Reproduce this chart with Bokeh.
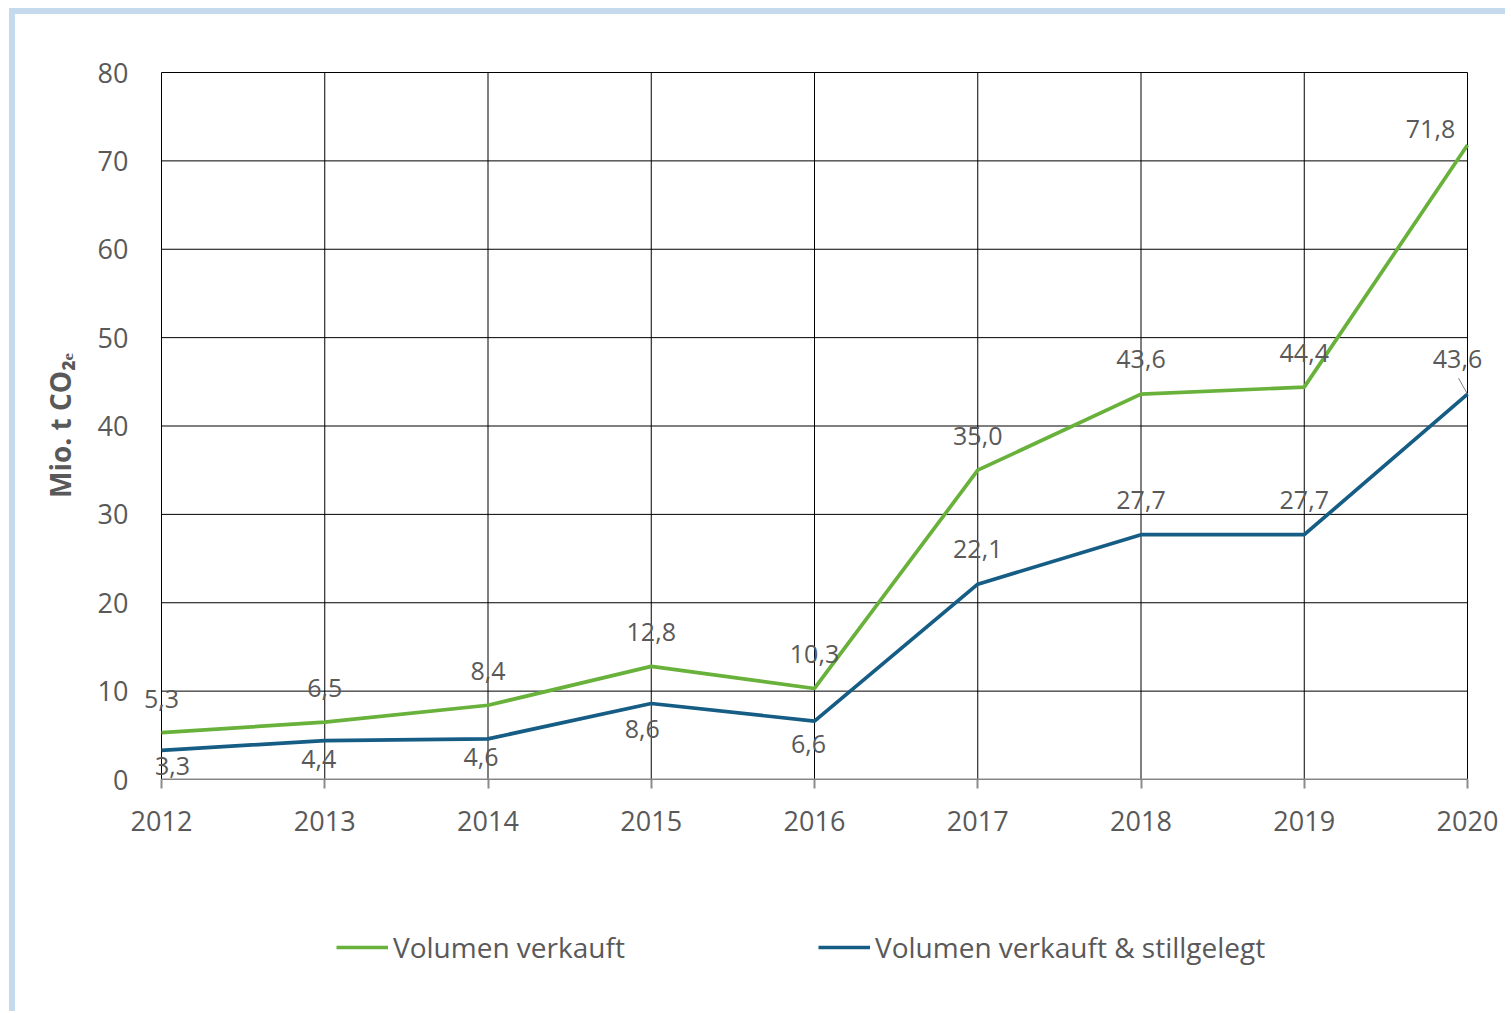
from bokeh.plotting import figure
from bokeh.layouts import column
from bokeh.models import Range1d, FixedTicker, ColumnDataSource, Legend, LegendItem
from bokeh.core.properties import value
from bokeh.embed import file_html
from bokeh.resources import INLINE

# ---- data ----
years = [2012, 2013, 2014, 2015, 2016, 2017, 2018, 2019, 2020]
year_labels = ["2012", "2013", "2014", "2015", "2016", "2017", "2018", "2019", "2020"]
verkauft = [5.3, 6.5, 8.4, 12.8, 10.3, 35.0, 43.6, 44.4, 71.8]
stillgelegt = [3.3, 4.4, 4.6, 8.6, 6.6, 22.1, 27.7, 27.7, 43.6]
y_ticks = [0, 10, 20, 30, 40, 50, 60, 70, 80]
series_names = ["Volumen verkauft", "Volumen verkauft & stillgelegt"]

# label offsets (screen px) -- styling only
g_dx = [0, 0, 0, 0, 0, 0, 0, 0, -37]
g_dy = [-34, -34, -34, -34, -34, -34, -35, -34, -16]
b_dx = [11, -6, -7, -9, -6, 0, 0, 0, -10]
b_dy = [16, 18, 18, 26, 23, -35, -35, -35, -35]

GREEN = "#68B13A"
BLUE = "#165D85"
TXT = "#595959"
FONT = "Open Sans"

def fmt(v):
    return ("%.1f" % v).replace(".", ",")

# plot geometry (px)
GRID_W = 1306          # width of gridded box
GRID_H = 707           # height of gridded box
PAD_X = 20             # frame extends beyond grid box so labels are not clipped
PAD_TOP = 1
px_per_x = GRID_W / (years[-1] - years[0])
px_per_y = GRID_H / (y_ticks[-1] - y_ticks[0])

x0, x1 = years[0], years[-1]
y0, y1 = y_ticks[0], y_ticks[-1]

p = figure(width=1490, height=850, output_backend="svg", toolbar_location=None,
           x_range=Range1d(x0 - PAD_X / px_per_x, x1 + PAD_X / px_per_x),
           y_range=Range1d(y0, y1 + PAD_TOP / px_per_y),
           min_border_left=126, min_border_top=57, min_border_right=18, min_border_bottom=85)
p.outline_line_color = None
p.xgrid.grid_line_color = None
p.ygrid.grid_line_color = None
p.background_fill_color = "white"
p.border_fill_color = "white"

xa = p.xaxis[0]
xa.ticker = FixedTicker(ticks=years)
xa.major_label_overrides = {y: l for y, l in zip(years, year_labels)}
xa.major_label_text_font = FONT
xa.major_label_text_font_size = "27px"
xa.major_label_text_color = TXT
xa.major_label_standoff = 22
xa.axis_line_color = None
xa.major_tick_line_color = "#8C8C8C"
xa.major_tick_line_width = 2
xa.major_tick_out = 9
xa.major_tick_in = 0
xa.minor_tick_line_color = None

ya = p.yaxis[0]
ya.ticker = FixedTicker(ticks=y_ticks)
ya.major_label_text_font = FONT
ya.major_label_text_font_size = "27px"
ya.major_label_text_color = TXT
ya.major_label_standoff = 7
ya.axis_line_color = None
ya.major_tick_line_color = None
ya.minor_tick_line_color = None
ya.axis_label = "Mio. t CO₂ₑ"
ya.axis_label_text_font = FONT
ya.axis_label_text_font_size = "28px"
ya.axis_label_text_font_style = "bold"
ya.axis_label_text_color = TXT
ya.axis_label_standoff = 16

# grid box drawn from the tick arrays
p.segment(x0=years, y0=[y0] * len(years), x1=years, y1=[y1] * len(years),
          line_color="black", line_width=1)
p.segment(x0=[x0] * len(y_ticks), y0=y_ticks, x1=[x1] * len(y_ticks), y1=y_ticks,
          line_color="black", line_width=1)
# x axis line
p.segment(x0=[x0], y0=[y0], x1=[x1], y1=[y0], line_color="#8C8C8C", line_width=2)

src = ColumnDataSource(dict(
    x=years, g=verkauft, b=stillgelegt,
    gl=[fmt(v) for v in verkauft], bl=[fmt(v) for v in stillgelegt],
    gdx=g_dx, gdy=g_dy, bdx=b_dx, bdy=b_dy))

p.line("x", "g", source=src, line_color=GREEN, line_width=3.7)
p.line("x", "b", source=src, line_color=BLUE, line_width=3.7)

p.text("x", "g", text="gl", source=src, x_offset="gdx", y_offset="gdy",
       text_font=value(FONT), text_font_size="25px", text_color=TXT,
       text_align="center", text_baseline="middle")
p.text("x", "b", text="bl", source=src, x_offset="bdx", y_offset="bdy",
       text_font=value(FONT), text_font_size="25px", text_color=TXT,
       text_align="center", text_baseline="middle")

# leader line for last blue label
p.segment(x0=[x1 - 9 / px_per_x], y0=[stillgelegt[-1] + 16 / px_per_y],
          x1=[x1], y1=[stillgelegt[-1]], line_color="#7F7F7F", line_width=1)

# ---- legend strip ----
pl = figure(width=1490, height=147, output_backend="svg", toolbar_location=None,
            x_range=Range1d(0, 1), y_range=Range1d(0, 1),
            x_axis_location=None, y_axis_location=None,
            min_border_left=0, min_border_right=0, min_border_top=0, min_border_bottom=0)
pl.outline_line_color = None
pl.xgrid.grid_line_color = None
pl.ygrid.grid_line_color = None
la = pl.line("x", "g", source=src, line_color=GREEN, line_width=3.7, visible=False)
lb = pl.line("x", "b", source=src, line_color=BLUE, line_width=3.7, visible=False)

for r, name, loc in [(la, series_names[0], (195, 45)), (lb, series_names[1], (677, 45))]:
    leg = Legend(items=[LegendItem(label=name, renderers=[r])], location=loc,
                 orientation="horizontal", border_line_color=None,
                 background_fill_alpha=0, padding=0, margin=0,
                 glyph_width=52, glyph_height=30, label_height=30,
                 label_standoff=5, label_text_font=FONT,
                 label_text_font_size="28px", label_text_color=TXT)
    pl.add_layout(leg)

col = column(p, pl, spacing=0)
col.styles = {"border-top": "6px solid #C5DAEC", "border-left": "6px solid #C5DAEC",
              "margin-top": "8px", "margin-left": "9px"}

open("out.html", "w").write(file_html(col, INLINE))
